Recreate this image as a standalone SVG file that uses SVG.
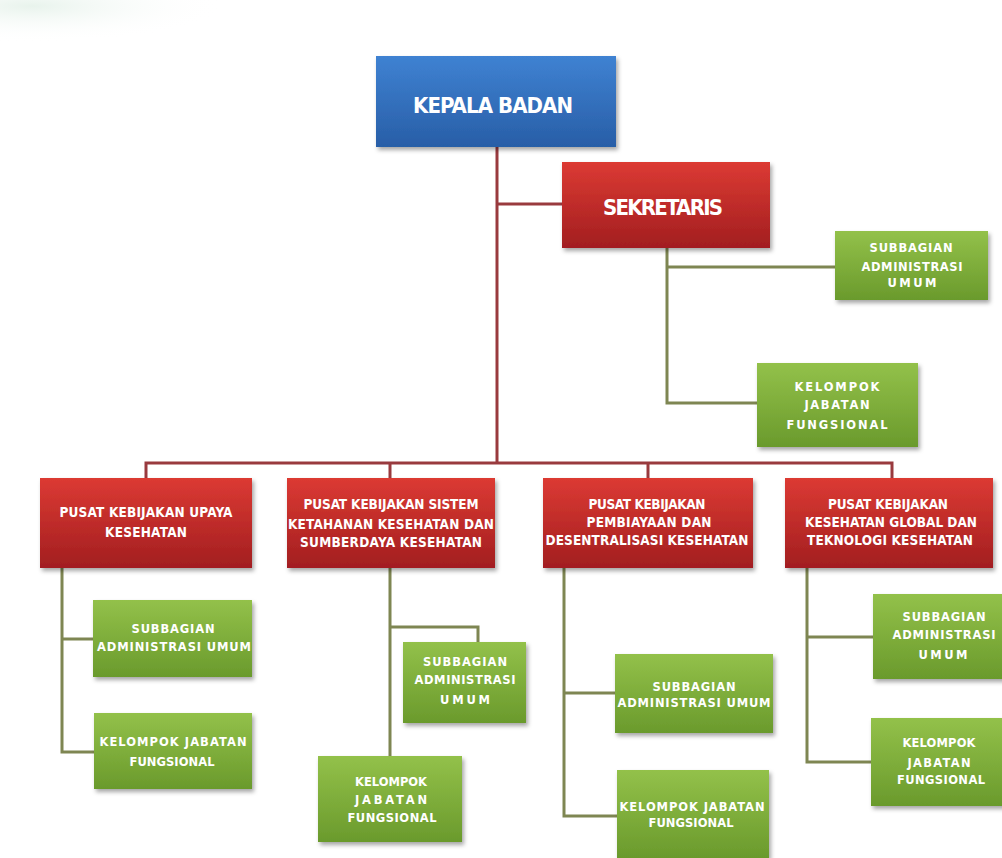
<svg xmlns="http://www.w3.org/2000/svg" width="1002" height="858" viewBox="0 0 1002 858">
<defs>
<linearGradient id="gBlue" x1="0" y1="0" x2="0" y2="1"><stop offset="0" stop-color="#3f82d2"/><stop offset="1" stop-color="#285ea7"/></linearGradient>
<linearGradient id="gRed" x1="0" y1="0" x2="0" y2="1"><stop offset="0" stop-color="#dc3a33"/><stop offset="1" stop-color="#a21e20"/></linearGradient>
<linearGradient id="gGreen" x1="0" y1="0" x2="0" y2="1"><stop offset="0" stop-color="#93c14a"/><stop offset="1" stop-color="#6a9a2c"/></linearGradient>
<radialGradient id="gBg" cx="0.05" cy="0.05" r="0.3"><stop offset="0" stop-color="#e8f3ec"/><stop offset="1" stop-color="#ffffff" stop-opacity="0"/></radialGradient>
<filter id="sh" x="-10%" y="-10%" width="130%" height="140%"><feDropShadow dx="2" dy="3" stdDeviation="2" flood-color="#000" flood-opacity="0.35"/></filter>
</defs>
<style>
.blue{fill:url(#gBlue);filter:url(#sh)}
.red{fill:url(#gRed);filter:url(#sh)}
.green{fill:url(#gGreen);filter:url(#sh)}
text{font-family:"DejaVu Sans Condensed","DejaVu Sans","Liberation Sans",sans-serif;font-weight:bold;fill:#fff;text-anchor:middle}
.big{font-size:22px}
.mid{font-size:13.5px}
.sm{font-family:"DejaVu Sans","Liberation Sans",sans-serif;font-size:11.5px}
.cr{fill:none;stroke:#993a3e;stroke-width:3}
.cg{fill:none;stroke:#7e8652;stroke-width:3}
</style>
<rect width="1002" height="858" fill="#ffffff"/>
<rect x="0" y="0" width="640" height="120" fill="url(#gBg)"/>
<g id="connectors">
<path class="cr" d="M497 147V463M497 204H562M146 478V463H892V478M390 463V478M648 463V478"/>
<path class="cg" d="M667 248V403H757M667 267H835"/>
<path class="cg" d="M62 568V752H94M62 639H93"/>
<path class="cg" d="M390 568V756M390 627H478V642"/>
<path class="cg" d="M564 568V816H617M564 693H615"/>
<path class="cg" d="M807 568V762H871M807 637H873"/>
</g>
<g id="kepala-badan"><rect class="blue" x="376" y="56" width="240" height="91"/><text class="big" x="493" y="113" textLength="160">KEPALA BADAN</text></g>
<g id="sekretaris"><rect class="red" x="562" y="162" width="208" height="86"/><text class="big" x="663" y="215" textLength="120">SEKRETARIS</text></g>
<g id="sek-subbagian"><rect class="green" x="835" y="231" width="153" height="69"/>
<text class="sm" x="911" y="252" textLength="83">SUBBAGIAN</text><text class="sm" x="912" y="271" textLength="101">ADMINISTRASI</text><text class="sm" x="912" y="287" textLength="49">UMUM</text></g>
<g id="sek-kelompok"><rect class="green" x="757" y="363" width="161" height="84"/>
<text class="sm" x="837" y="391" textLength="85">KELOMPOK</text><text class="sm" x="837" y="409" textLength="65">JABATAN</text><text class="sm" x="837" y="429" textLength="101">FUNGSIONAL</text></g>

<g id="pusat-1"><rect class="red" x="40" y="478" width="212" height="90"/>
<text class="mid" x="146" y="517" textLength="173">PUSAT KEBIJAKAN UPAYA</text><text class="mid" x="146" y="537" textLength="82">KESEHATAN</text></g>
<g id="pusat-2"><rect class="red" x="287" y="478" width="208" height="90"/>
<text class="mid" x="391" y="509" textLength="175">PUSAT KEBIJAKAN SISTEM</text><text class="mid" x="391" y="529" textLength="206">KETAHANAN KESEHATAN DAN</text><text class="mid" x="391" y="547" textLength="182">SUMBERDAYA KESEHATAN</text></g>
<g id="pusat-3"><rect class="red" x="543" y="478" width="210" height="90"/>
<text class="mid" x="647" y="509" textLength="117">PUSAT KEBIJAKAN</text><text class="mid" x="649" y="527" textLength="125">PEMBIAYAAN DAN</text><text class="mid" x="647" y="545" textLength="203">DESENTRALISASI KESEHATAN</text></g>
<g id="pusat-4"><rect class="red" x="785" y="478" width="208" height="90"/>
<text class="mid" x="888" y="509" textLength="120">PUSAT KEBIJAKAN</text><text class="mid" x="891" y="527" textLength="172">KESEHATAN GLOBAL DAN</text><text class="mid" x="890" y="545" textLength="166">TEKNOLOGI KESEHATAN</text></g>

<g id="p1-subbagian"><rect class="green" x="93" y="600" width="159" height="77"/>
<text class="sm" x="173" y="633" textLength="83">SUBBAGIAN</text><text class="sm" x="174" y="651" textLength="154">ADMINISTRASI UMUM</text></g>
<g id="p1-kelompok"><rect class="green" x="94" y="713" width="158" height="76"/>
<text class="sm" x="173" y="746" textLength="147">KELOMPOK JABATAN</text><text class="sm" x="172" y="766" textLength="85">FUNGSIONAL</text></g>

<g id="p2-subbagian"><rect class="green" x="403" y="642" width="123" height="81"/>
<text class="sm" x="465" y="666" textLength="84">SUBBAGIAN</text><text class="sm" x="465" y="684" textLength="101">ADMINISTRASI</text><text class="sm" x="465" y="704" textLength="50">UMUM</text></g>
<g id="p2-kelompok"><rect class="green" x="318" y="756" width="144" height="86"/>
<text class="sm" x="391" y="786" textLength="72">KELOMPOK</text><text class="sm" x="391" y="804" textLength="72">JABATAN</text><text class="sm" x="392" y="822" textLength="89">FUNGSIONAL</text></g>

<g id="p3-subbagian"><rect class="green" x="615" y="654" width="158" height="79"/>
<text class="sm" x="694" y="691" textLength="83">SUBBAGIAN</text><text class="sm" x="694" y="707" textLength="153">ADMINISTRASI UMUM</text></g>
<g id="p3-kelompok"><rect class="green" x="617" y="770" width="152" height="88"/>
<text class="sm" x="692" y="811" textLength="145">KELOMPOK JABATAN</text><text class="sm" x="691" y="827" textLength="85">FUNGSIONAL</text></g>

<g id="p4-subbagian"><rect class="green" x="873" y="594" width="135" height="85"/>
<text class="sm" x="944" y="621" textLength="83">SUBBAGIAN</text><text class="sm" x="944" y="639" textLength="103">ADMINISTRASI</text><text class="sm" x="943" y="659" textLength="49">UMUM</text></g>
<g id="p4-kelompok"><rect class="green" x="871" y="718" width="137" height="88"/>
<text class="sm" x="939" y="747" textLength="73">KELOMPOK</text><text class="sm" x="939" y="767" textLength="63">JABATAN</text><text class="sm" x="941" y="784" textLength="88">FUNGSIONAL</text></g>
</svg>
